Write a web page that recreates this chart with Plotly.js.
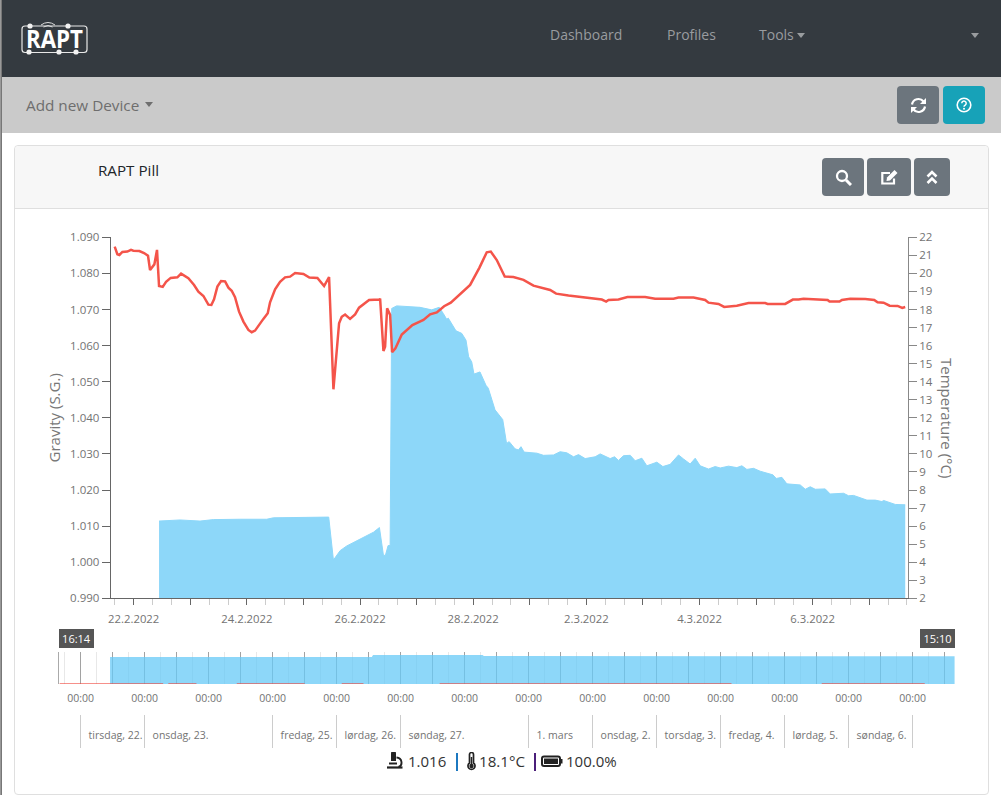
<!DOCTYPE html>
<html><head><meta charset="utf-8">
<script src="https://cdn.plot.ly/plotly-3.0.1.min.js"></script>
<style>
html,body{margin:0;padding:0;background:#fff;width:1001px;height:795px;overflow:hidden;font-family:"Open Sans",sans-serif}
.a{position:absolute;white-space:nowrap}
.t{position:absolute;white-space:nowrap;line-height:20px;height:20px}
.btn{position:absolute;border-radius:4px;background:#6c757d;display:flex;align-items:center;justify-content:center}
.caret{position:absolute;width:0;height:0;border-left:4.5px solid transparent;border-right:4.5px solid transparent;border-top:5px solid}
.pipe{position:absolute;width:2px;height:18px;top:753px}
#chart{position:absolute;left:0;top:0;width:1001px;height:795px}
</style></head><body>
<div class="a" style="left:0;top:0;width:2px;height:795px;background:linear-gradient(90deg,#aaa,#666)"></div>
<div class="a" style="left:2px;top:0;width:999px;height:77px;background:#343a40"></div>
<div class="a" style="left:2px;top:77px;width:999px;height:56px;background:#cacaca"></div>
<svg class="a" style="left:18px;top:16px" width="74" height="42" viewBox="18 16 74 42">
 <rect x="22" y="26" width="65" height="26.5" rx="3" fill="none" stroke="#e8e8e8" stroke-width="1.2"/>
 <g fill="#f2f2f2"><circle cx="30" cy="26" r="2.6"/><circle cx="68" cy="26" r="2.6"/><circle cx="29" cy="52" r="2.6"/><circle cx="59" cy="52" r="2.6"/><circle cx="76" cy="52" r="2.6"/></g>
 <g fill="none" stroke="#ddd" stroke-width="1"><path d="M41 25q7-5 14 0"/><path d="M43.500 27q4.500-3 9 0"/></g>
 <text x="54.500" y="48" text-anchor="middle" font-family="Open Sans" font-weight="700" font-size="25" fill="#fff" textLength="57" lengthAdjust="spacingAndGlyphs">RAPT</text>
</svg>
<div class="t" style="left:550px;top:24.500px;font-size:14px;color:#999c9f">Dashboard</div>
<div class="t" style="left:667px;top:24.500px;font-size:14px;color:#999c9f">Profiles</div>
<div class="t" style="left:759px;top:24.500px;font-size:14px;color:#999c9f">Tools</div>
<div class="caret" style="left:797px;top:33px;color:#999c9f"></div>
<div class="caret" style="left:971px;top:33px;color:#999c9f"></div>
<div class="t" style="left:26px;top:94.500px;font-size:15.300px;color:#6e6e6e">Add new Device</div>
<div class="caret" style="left:144.500px;top:102px;color:#6e6e6e"></div>
<div class="btn" style="left:897px;top:86px;width:42px;height:38px"><svg width="17" height="17" viewBox="0 0 17 17" fill="none" stroke="#fff" stroke-width="2.200"><path d="M2 7.500a6.500 6.500 0 0 1 11.500-3"/><path d="M15 9.500a6.500 6.500 0 0 1-11.500 3"/><path d="M16 1v6h-6z" fill="#fff" stroke="none"/><path d="M1 16v-6h6z" fill="#fff" stroke="none"/></svg></div>
<div class="btn" style="left:943px;top:86px;width:42px;height:38px;background:#17a2b8"><svg width="16" height="16" viewBox="0 0 16 16"><circle cx="8" cy="8" r="6.800" fill="none" stroke="#fff" stroke-width="1.600"/><path d="M5.800 6.300a2.200 2.200 0 1 1 3.400 1.800c-.8.500-1.200.9-1.200 1.600" fill="none" stroke="#fff" stroke-width="1.500"/><circle cx="8" cy="11.800" r="1" fill="#fff"/></svg></div>

<div class="a" style="left:14px;top:145px;width:973px;height:648px;border:1px solid #dfdfdf;border-radius:4px;background:#fff"></div>
<div class="a" style="left:15px;top:146px;width:973px;height:62px;background:#f7f7f7;border-bottom:1px solid #dfdfdf;border-radius:4px 4px 0 0"></div>
<div class="t" style="left:98px;top:160px;font-size:15.200px;color:#212529">RAPT Pill</div>
<div class="btn" style="left:822px;top:158px;width:42px;height:38px"><svg width="17" height="17" viewBox="0 0 17 17" fill="none" stroke="#fff"><circle cx="7" cy="7" r="5" stroke-width="2.300"/><path d="M11 11l5 5" stroke-width="3"/></svg></div>
<div class="btn" style="left:867px;top:158px;width:44px;height:38px"><svg width="19" height="17" viewBox="0 0 19 17"><path d="M14 9.500v5H2.300V4H10" fill="none" stroke="#fff" stroke-width="2.200"/><path d="M7 8.500L14.500 1l3 3L10 11.500l-3.500.5z" fill="#fff"/></svg></div>
<div class="btn" style="left:914px;top:158px;width:36px;height:38px"><svg width="12" height="15" viewBox="0 0 12 15" fill="none" stroke="#fff" stroke-width="2.600"><path d="M1.500 6.500L6 2l4.500 4.500"/><path d="M1.500 13L6 8.500 10.500 13"/></svg></div>

<div id="chart"></div>

<svg class="a" style="left:386px;top:752px" width="18" height="18" viewBox="0 0 18 18"><path d="M5 1.500a2.500 2.500 0 0 1 5 0V9H5z" fill="#222"/><path d="M10.500 5.500c6 .5 6.500 8 2 9.500" fill="none" stroke="#222" stroke-width="1.900"/><path d="M3 10.500h8v2H3z" fill="#222"/><path d="M1 15.500h15.500" stroke="#222" stroke-width="2.200"/></svg>
<div class="t" style="left:408px;top:751px;font-size:15px;color:#333">1.016</div>
<div class="pipe" style="left:455.500px;background:#1c78c0"></div>
<svg class="a" style="left:466px;top:752px" width="11" height="19" viewBox="0 0 11 19"><path d="M3.500 2.500a2 2 0 0 1 4 0V11a3.500 3.500 0 1 1-4 0z" fill="none" stroke="#222" stroke-width="1.700"/><circle cx="5.500" cy="14" r="2.200" fill="#222"/><path d="M5.500 5v8" stroke="#222" stroke-width="1.500"/></svg>
<div class="t" style="left:479px;top:751px;font-size:15.200px;color:#333">18.1°C</div>
<div class="pipe" style="left:533.500px;background:#4b1f7a"></div>
<svg class="a" style="left:541px;top:755px" width="22" height="13" viewBox="0 0 22 13"><rect x="1" y="1.500" width="18" height="9.500" rx="2" fill="none" stroke="#222" stroke-width="2"/><rect x="3" y="3.500" width="14" height="5.500" fill="#222"/><rect x="19.500" y="4" width="2" height="4.500" fill="#222"/></svg>
<div class="t" style="left:566px;top:751px;font-size:15px;color:#333">100.0%</div>

<script>
// Time axis values are days after 22 Feb 2022 00:00
const gravityDays=[0.448,0.819,1.173,1.408,1.880,2.351,2.469,3.058,3.447,3.530,3.648,3.765,4.001,4.237,4.343,4.414,4.449,4.496,4.532,4.560,4.648,4.854,5.060,5.267,5.400,5.472,5.532,5.560,5.620,5.696,5.797,5.873,5.920,5.974,6.014,6.120,6.226,6.267,6.386,6.522,6.590,6.636,6.740,6.800,6.845,6.900,7.125,7.243,7.419,7.537,7.655,7.773,7.862,7.979,8.156,8.245,8.421,8.498,8.568,8.657,8.775,8.863,8.981,9.069,9.246,9.352,9.482,9.629,9.717,9.835,9.924,10.012,10.159,10.277,10.366,10.513,10.660,10.749,10.837,10.955,11.073,11.191,11.297,11.356,11.456,11.544,11.780,11.869,11.957,12.046,12.222,12.310,12.428,12.546,12.635,12.723,12.959,13.106,13.224,13.254,13.460,13.636];
const gravity=[1.0114,1.0117,1.0114,1.0118,1.0119,1.0119,1.0123,1.0124,1.0125,1.0006,1.0032,1.0045,1.0064,1.0083,1.0096,1.0019,1.0019,1.0046,1.0046,1.0703,1.0710,1.0708,1.0706,1.0699,1.0706,1.0689,1.0673,1.0676,1.0662,1.0641,1.0634,1.0615,1.0569,1.0555,1.0521,1.0527,1.0490,1.0482,1.0422,1.0395,1.0329,1.0334,1.0314,1.0311,1.0320,1.0305,1.0302,1.0296,1.0297,1.0306,1.0303,1.0292,1.0298,1.0287,1.0292,1.0300,1.0287,1.0292,1.0282,1.0295,1.0296,1.0281,1.0288,1.0267,1.0277,1.0265,1.0271,1.0297,1.0286,1.0272,1.0288,1.0267,1.0258,1.0265,1.0261,1.0266,1.0262,1.0267,1.0257,1.0260,1.0252,1.0246,1.0242,1.0232,1.0235,1.0217,1.0214,1.0202,1.0209,1.0202,1.0203,1.0189,1.0191,1.0191,1.0184,1.0185,1.0172,1.0172,1.0168,1.0171,1.0160,1.0159];
const tempDays=[-0.336,-0.289,-0.253,-0.200,-0.112,-0.047,-0.006,0.100,0.183,0.253,0.289,0.365,0.412,0.448,0.513,0.572,0.654,0.772,0.837,0.966,1.067,1.143,1.232,1.320,1.373,1.420,1.479,1.544,1.615,1.674,1.732,1.791,1.862,1.939,2.027,2.086,2.145,2.204,2.292,2.369,2.410,2.499,2.587,2.675,2.764,2.852,3.000,3.105,3.247,3.365,3.453,3.530,3.630,3.677,3.736,3.824,3.913,3.983,4.060,4.160,4.343,4.355,4.414,4.443,4.479,4.532,4.567,4.626,4.738,4.926,5.121,5.239,5.357,5.486,5.604,5.781,5.946,6.111,6.240,6.311,6.417,6.558,6.711,6.889,7.065,7.360,7.466,7.684,8.009,8.274,8.350,8.392,8.568,8.727,9.039,9.216,9.540,9.629,9.894,10.100,10.159,10.336,10.436,10.513,10.660,10.866,11.161,11.203,11.515,11.650,11.751,11.839,12.075,12.264,12.298,12.475,12.517,12.664,12.930,13.088,13.147,13.254,13.360,13.501,13.583,13.636];
const temperature=[21.48,21.06,21.02,21.19,21.21,21.30,21.26,21.24,21.13,20.98,20.19,20.50,21.30,19.30,19.25,19.53,19.75,19.78,19.99,19.73,19.36,18.99,18.75,18.27,18.25,18.57,19.27,19.58,19.56,19.21,19.04,18.68,17.88,17.33,16.87,16.74,16.83,17.12,17.48,17.79,18.40,19.12,19.53,19.78,19.82,20.02,19.97,19.77,19.75,19.30,19.80,13.58,17.24,17.60,17.72,17.48,17.73,18.10,18.27,18.53,18.55,18.60,15.70,15.94,18.07,17.70,15.63,15.85,16.61,17.14,17.42,17.73,17.84,18.18,18.38,18.86,19.36,20.32,21.17,21.21,20.74,19.82,19.80,19.64,19.32,19.08,18.88,18.77,18.66,18.55,18.44,18.53,18.55,18.69,18.69,18.60,18.60,18.66,18.66,18.53,18.38,18.31,18.14,18.16,18.21,18.36,18.36,18.31,18.31,18.55,18.55,18.60,18.58,18.53,18.44,18.44,18.53,18.60,18.58,18.53,18.40,18.38,18.21,18.20,18.09,18.14];
// Overview strip, relative height (0-1 of the strip)
const navFillDays=[0.46,2.84,2.85,3.40,3.41,4.55,4.57,6.28,6.30,13.66];
const navFill=[0.84,0.84,0.86,0.86,0.84,0.84,0.91,0.91,0.875,0.865];
const navTempDays=[-0.33,1.29,null,1.37,1.81,null,2.44,3.50,null,4.08,4.42,null,5.61,10.17,null,11.58,13.19];
const navTemp=[0,0,null,0,0,null,0,0,null,0,0,null,0,0,null,0,0];
const xDateLabels=["22.2.2022","","24.2.2022","","26.2.2022","","28.2.2022","","2.3.2022","","4.3.2022","","6.3.2022",""];
const dayLabelDays=[0,1,3,4,5,7,8,9,10,11,12];
const dayLabels=["tirsdag, 22.","onsdag, 23.","fredag, 25.","lørdag, 26.","søndag, 27.","1. mars","onsdag, 2.","torsdag, 3.","fredag, 4.","lørdag, 5.","søndag, 6."];
const daySeparatorDays=[0,1,3,4,5,7,8,9,10,11,12,13];
const handleStart="16:14", handleEnd="15:10", navHourLabel="00:00";

const BASE=Date.UTC(2022,1,22);
const D=t=>t===null?null:new Date(BASE+t*864e5).toISOString().slice(0,19);
const W=1001,H=795;
const dx=(a,b)=>[a/W,b/W], dy=(top,bot)=>[1-bot/H,1-top/H];
const FONT='"Open Sans",sans-serif', TXT='#737373';
const allDays=xDateLabels.map((_,i)=>i);
const navTicks=[],navText=[];
for(let i=0;i<=13;i++){navTicks.push(D(i));navText.push(navHourLabel);navTicks.push(D(i+.5));navText.push('');}
const navRange=[D(-0.333),D(13.658)];

const traces=[
 {x:gravityDays.map(D),y:gravity,type:'scatter',mode:'lines',fill:'tozeroy',fillcolor:'#8dd7f9',line:{color:'#8dd7f9',width:1},xaxis:'x',yaxis:'y',name:'Gravity'},
 {x:tempDays.map(D),y:temperature,type:'scatter',mode:'lines',line:{color:'#f4544a',width:2.5},xaxis:'x',yaxis:'y2',name:'Temperature'},
 {x:navFillDays.map(D),y:navFill,type:'scatter',mode:'lines',fill:'tozeroy',fillcolor:'rgba(103,202,247,.75)',line:{width:0,color:'rgba(103,202,247,.75)'},xaxis:'x2',yaxis:'y3',name:'Gravity overview'},
 {x:navTempDays.map(D),y:navTemp,type:'scatter',mode:'lines',connectgaps:false,line:{color:'rgba(240,70,60,.6)',width:2},xaxis:'x2',yaxis:'y3',name:'Temperature overview'},
 {x:dayLabelDays.map(d=>D(d+.125)),y:dayLabels.map(()=>.36),text:dayLabels,type:'scatter',mode:'text',textposition:'middle right',cliponaxis:false,textfont:{family:FONT,size:10.5,color:TXT},xaxis:'x3',yaxis:'y4',name:'Days'}
];
const layout={
 width:W,height:H,margin:{l:0,r:0,t:0,b:0,pad:0},paper_bgcolor:'rgba(0,0,0,0)',plot_bgcolor:'rgba(0,0,0,0)',showlegend:false,hovermode:false,
 font:{family:FONT,size:12,color:TXT},
 xaxis:{type:'date',domain:dx(110.7,908),range:[D(-0.4065),D(13.685)],anchor:'y',tickmode:'array',tickvals:allDays.map(D),ticktext:xDateLabels,tickangle:0,
  ticks:'outside',ticklen:6,tickcolor:'#666',showgrid:false,showline:true,linecolor:'#666',linewidth:1,zeroline:false,ticklabelstandoff:4,tickfont:{size:11.3,color:TXT},
  minor:{dtick:288e5,tick0:D(0),ticks:'outside',ticklen:6,tickcolor:'#ccc',showgrid:false}},
 yaxis:{domain:dy(237.3,598.3),range:[0.99,1.09],dtick:0.01,tick0:0.99,tickformat:'.3f',anchor:'x',ticks:'outside',ticklen:8,tickcolor:'#666',showgrid:false,showline:true,linecolor:'#666',zeroline:false,tickfont:{size:11.5,color:TXT},title:{text:'Gravity (S.G.)',standoff:5,font:{size:15,color:'#777'}}},
 yaxis2:{overlaying:'y',side:'right',range:[2,22],dtick:1,tick0:2,anchor:'x',ticks:'outside',ticklen:8,tickcolor:'#888',showgrid:false,showline:true,linecolor:'#888',zeroline:false,tickfont:{size:11.5,color:TXT}},
 xaxis2:{type:'date',domain:dx(59.3,954.7),range:navRange,anchor:'y3',tickmode:'array',tickvals:navTicks,ticktext:navText,tickangle:0,ticks:'',showgrid:true,gridcolor:'rgba(0,0,0,.3)',gridwidth:1,showline:false,zeroline:false,ticklabelstandoff:6,tickfont:{size:10.5,color:TXT},
  minor:{dtick:216e5,tick0:D(0),showgrid:true,gridcolor:'rgba(0,0,0,.09)',ticks:''}},
 yaxis3:{domain:dy(652,684),range:[0,1],anchor:'x2',showticklabels:false,ticks:'',showgrid:false,zeroline:false,showline:true,linecolor:'#aaa'},
 xaxis3:{type:'date',domain:dx(59.3,954.7),range:navRange,anchor:'y4',tickmode:'array',tickvals:daySeparatorDays.map(D),ticktext:daySeparatorDays.map(()=>''),ticks:'',showgrid:true,gridcolor:'#ccc',showline:false,zeroline:false},
 yaxis4:{domain:dy(715,748),range:[0,1],anchor:'x3',showticklabels:false,ticks:'',showgrid:false,zeroline:false,showline:false},
 annotations:[
  {xref:'paper',yref:'paper',x:947/W,y:1-418/H,xanchor:'center',yanchor:'middle',text:'Temperature (°C)',textangle:90,showarrow:false,font:{size:15,color:'#777'}},
  {xref:'paper',yref:'paper',x:59/W,y:1-629/H,xanchor:'left',yanchor:'top',text:handleStart,showarrow:false,width:35,height:19,borderpad:0,borderwidth:0,bgcolor:'#555',font:{color:'#fff',size:11}},
  {xref:'paper',yref:'paper',x:954.500/W,y:1-629/H,xanchor:'right',yanchor:'top',text:handleEnd,showarrow:false,width:35,height:19,borderpad:0,borderwidth:0,bgcolor:'#555',font:{color:'#fff',size:11}}
 ]
};
Plotly.newPlot('chart',traces,layout,{displayModeBar:false,staticPlot:true});
</script>
</body></html>
